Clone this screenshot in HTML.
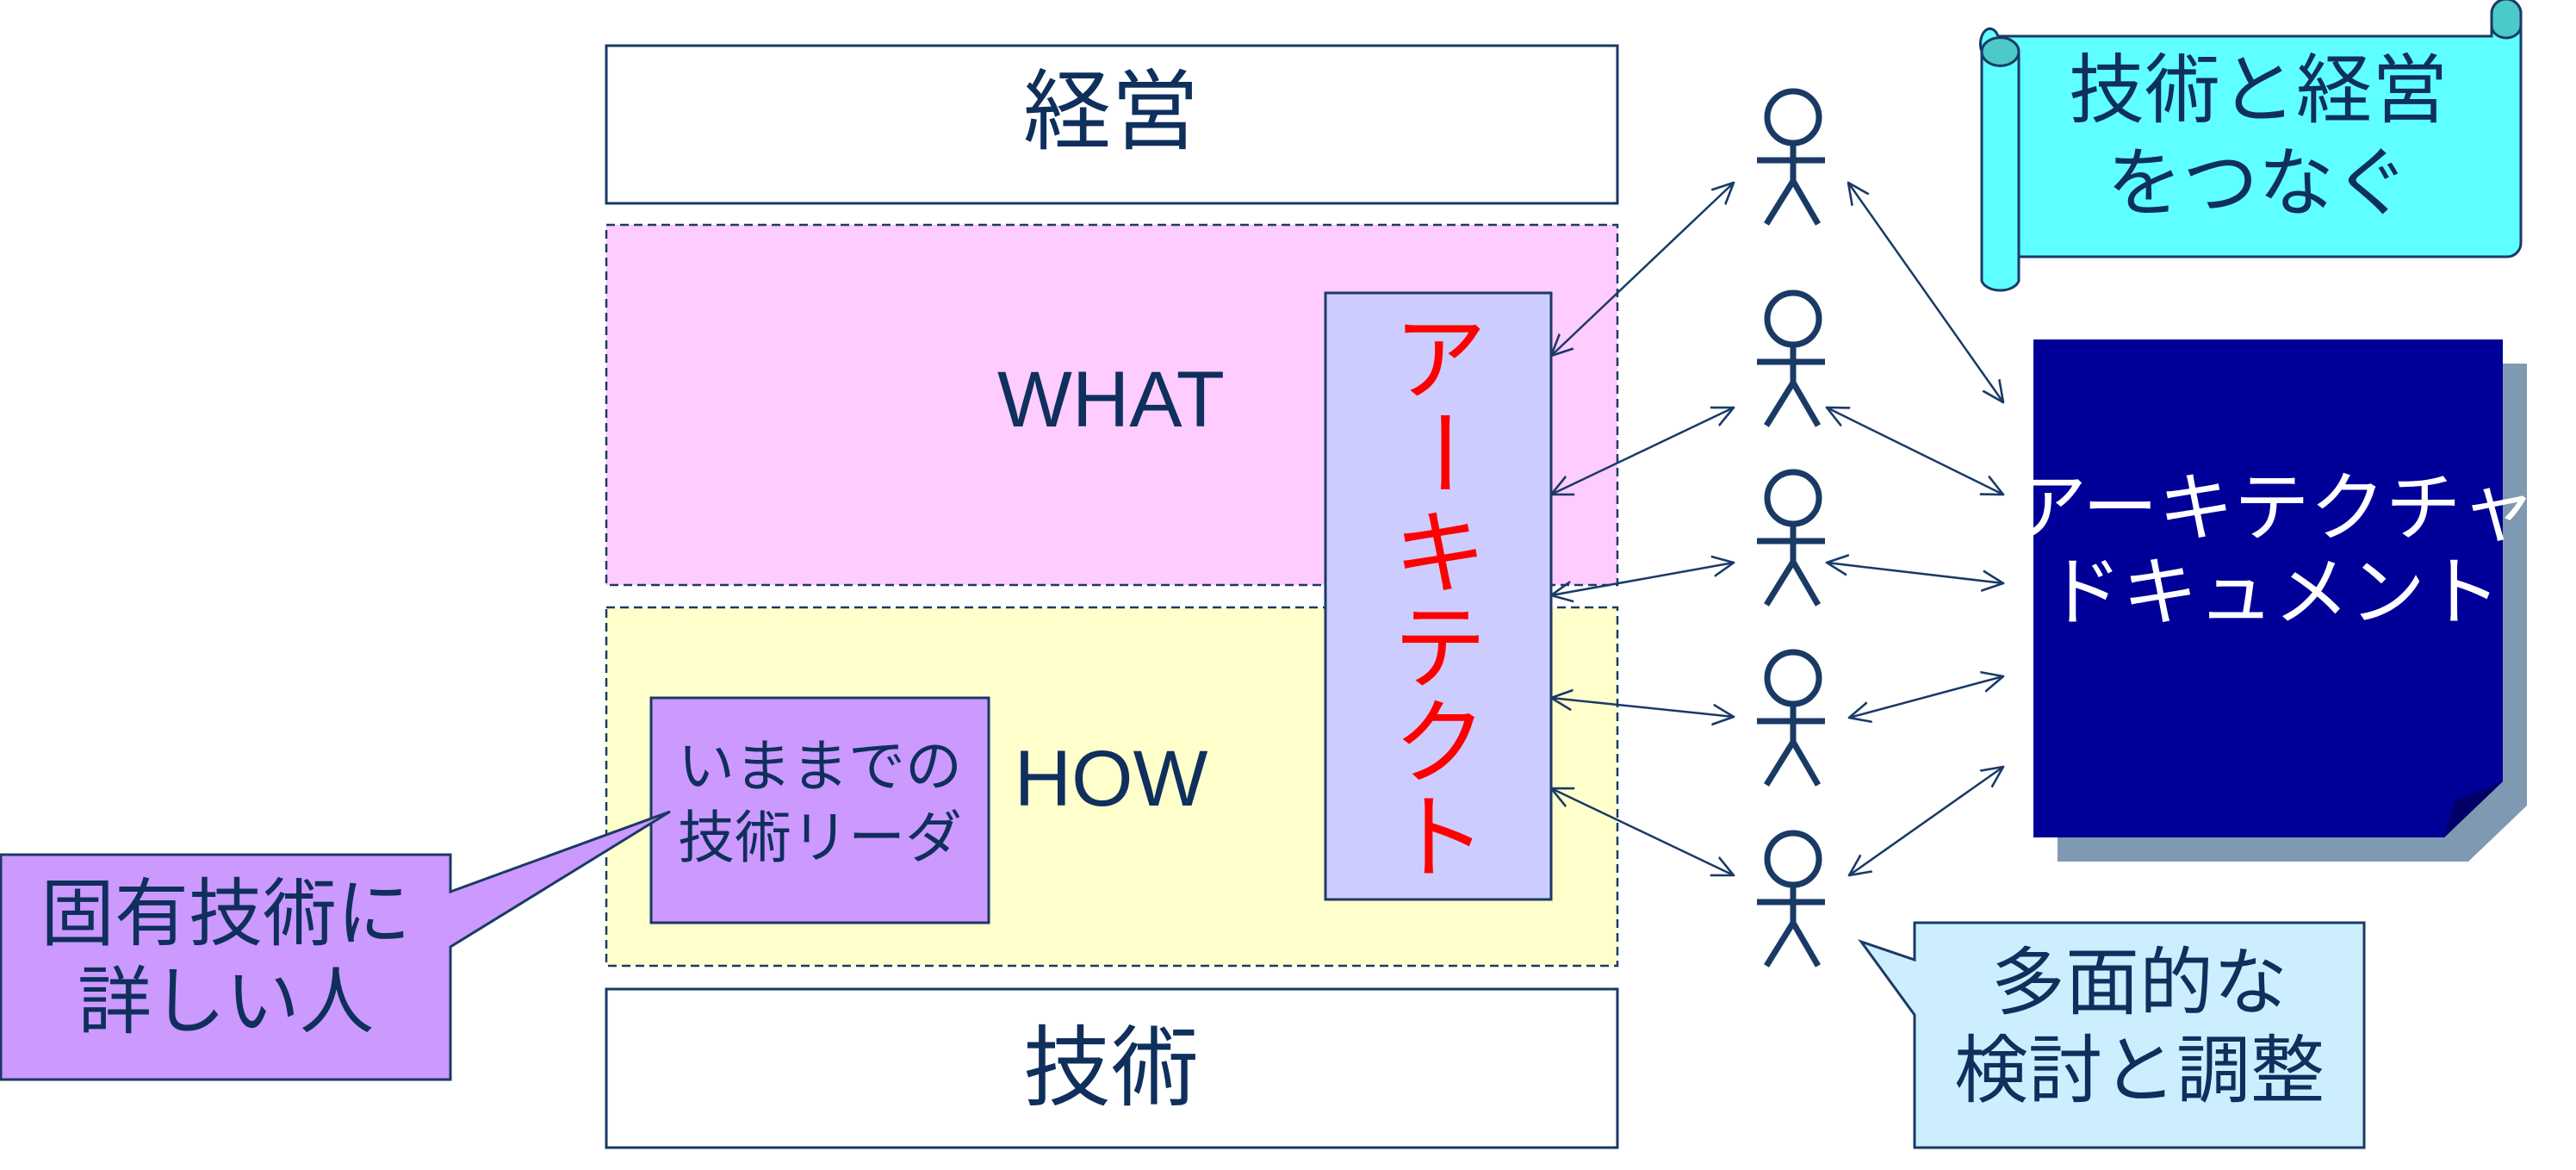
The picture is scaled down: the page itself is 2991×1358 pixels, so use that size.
<!DOCTYPE html>
<html><head><meta charset="utf-8"><style>
html,body{margin:0;padding:0;background:#fff;}
svg{display:block;}
text{font-family:"Liberation Sans","Noto Sans CJK JP",sans-serif;fill:#0f2f5c;}
</style></head><body>
<svg width="2991" height="1358" viewBox="0 0 2991 1358" xmlns="http://www.w3.org/2000/svg">
<defs>
<marker id="ah" viewBox="0 0 20 20" refX="19" refY="10" markerWidth="26" markerHeight="26" markerUnits="userSpaceOnUse" orient="auto-start-reverse">
<path d="M0,1 L19,10 L0,19" fill="none" stroke="#1a3a66" stroke-width="2"/>
</marker>
</defs>
<g stroke="#1a3a66" stroke-width="3">
<rect x="704" y="53" width="1174" height="183" fill="#fff"/>
<rect x="704" y="261" width="1174" height="418" fill="#ffccff" stroke-dasharray="10,6" stroke-width="2.5"/>
<rect x="704" y="705" width="1174" height="416" fill="#ffffcc" stroke-dasharray="10,6" stroke-width="2.5"/>
<rect x="704" y="1148" width="1174" height="184" fill="#fff"/>
<rect x="1539" y="340" width="262" height="704" fill="#ccccff"/>
<rect x="756" y="810" width="392" height="261" fill="#cc99ff"/>
<path d="M1,992 H523 V1035 L778,942 L523,1099 V1253 H1 Z" fill="#cc99ff"/>
<path d="M2223,1071 H2745 V1332 H2223 V1178 L2161,1093 L2223,1114 Z" fill="#cceeff"/>
</g>
<text x="1290" y="165" font-size="102" text-anchor="middle">経営</text>
<text x="1290" y="495" font-size="92" text-anchor="middle">WHAT</text>
<text x="1290" y="935" font-size="92" text-anchor="middle">HOW</text>
<text x="1290" y="1275" font-size="102" text-anchor="middle">技術</text>
<g font-size="108" text-anchor="middle">
<text x="1672" y="455" style="fill:#ff0000">ア</text>
<text x="1672" y="560" style="fill:#ff0000" transform="rotate(90 1672 525)">ー</text>
<text x="1672" y="680" style="fill:#ff0000">キ</text>
<text x="1672" y="790" style="fill:#ff0000">テ</text>
<text x="1672" y="900" style="fill:#ff0000">ク</text>
<text x="1672" y="1010" style="fill:#ff0000">ト</text>
</g>
<text x="952" y="912" font-size="66" text-anchor="middle">いままでの</text>
<text x="952" y="995" font-size="66" text-anchor="middle">技術リーダ</text>
<text x="262" y="1090" font-size="86" text-anchor="middle">固有技術に</text>
<text x="262" y="1192" font-size="86" text-anchor="middle">詳しい人</text>
<text x="2484" y="1170" font-size="86" text-anchor="middle">多面的な</text>
<text x="2484" y="1272" font-size="86" text-anchor="middle">検討と調整</text>
<g stroke="#1a3a66" stroke-width="3" fill="#5fffff">
<path d="M2320,42 H2893 V16 A17,17 0 0 1 2927,16 V282 A16,16 0 0 1 2911,298 H2344 V326 A22,14 0 0 1 2301,326 V60 A10,16 0 0 1 2320,42 Z"/>
<path d="M2893,16 A17,17 0 0 1 2927,16 V30 A17,14 0 0 1 2893,30 Z" fill="#4cc9c9"/>
<path d="M2301,60 A21,16 0 0 1 2344,60 A21,16 0 0 1 2301,60 Z" fill="#4cc9c9"/>
<line x1="2344" y1="60" x2="2344" y2="298"/>
</g>
<text x="2622" y="135" font-size="88" text-anchor="middle">技術と経営</text>
<text x="2622" y="243" font-size="88" text-anchor="middle">をつなぐ</text>
<path d="M2389,422 H2934 V935 L2866,1000 H2389 Z" fill="#7f99b3"/>
<path d="M2361,394 H2906 V907 L2838,972 H2361 Z" fill="#000099"/>
<path d="M2906,907 L2838,972 L2850,930 Z" fill="#000066"/>
<text x="2640" y="620" font-size="88" text-anchor="middle" style="fill:#fff">アーキテクチャ</text>
<text x="2640" y="718" font-size="88" text-anchor="middle" style="fill:#fff">ドキュメント</text>
<g stroke="#1a3a66" stroke-width="7" fill="none">
<g id="p"><circle cx="2082" cy="136" r="30"/><path d="M2082,166 V210 M2040,186 H2119 M2051,260 L2082,210 L2111,260"/></g>
<use href="#p" y="234"/>
<use href="#p" y="442"/>
<use href="#p" y="651"/>
<use href="#p" y="861"/>
</g>
<g stroke="#1a3a66" stroke-width="2.5" marker-start="url(#ah)" marker-end="url(#ah)">
<line x1="1801" y1="413" x2="2013" y2="212"/>
<line x1="1801" y1="574" x2="2013" y2="473"/>
<line x1="1801" y1="691" x2="2013" y2="653"/>
<line x1="1801" y1="810" x2="2013" y2="832"/>
<line x1="1801" y1="915" x2="2013" y2="1016"/>
<line x1="2146" y1="212" x2="2326" y2="467"/>
<line x1="2121" y1="473" x2="2326" y2="574"/>
<line x1="2121" y1="653" x2="2326" y2="677"/>
<line x1="2147" y1="833" x2="2326" y2="785"/>
<line x1="2147" y1="1016" x2="2326" y2="890"/>
</g>
</svg>
</body></html>
